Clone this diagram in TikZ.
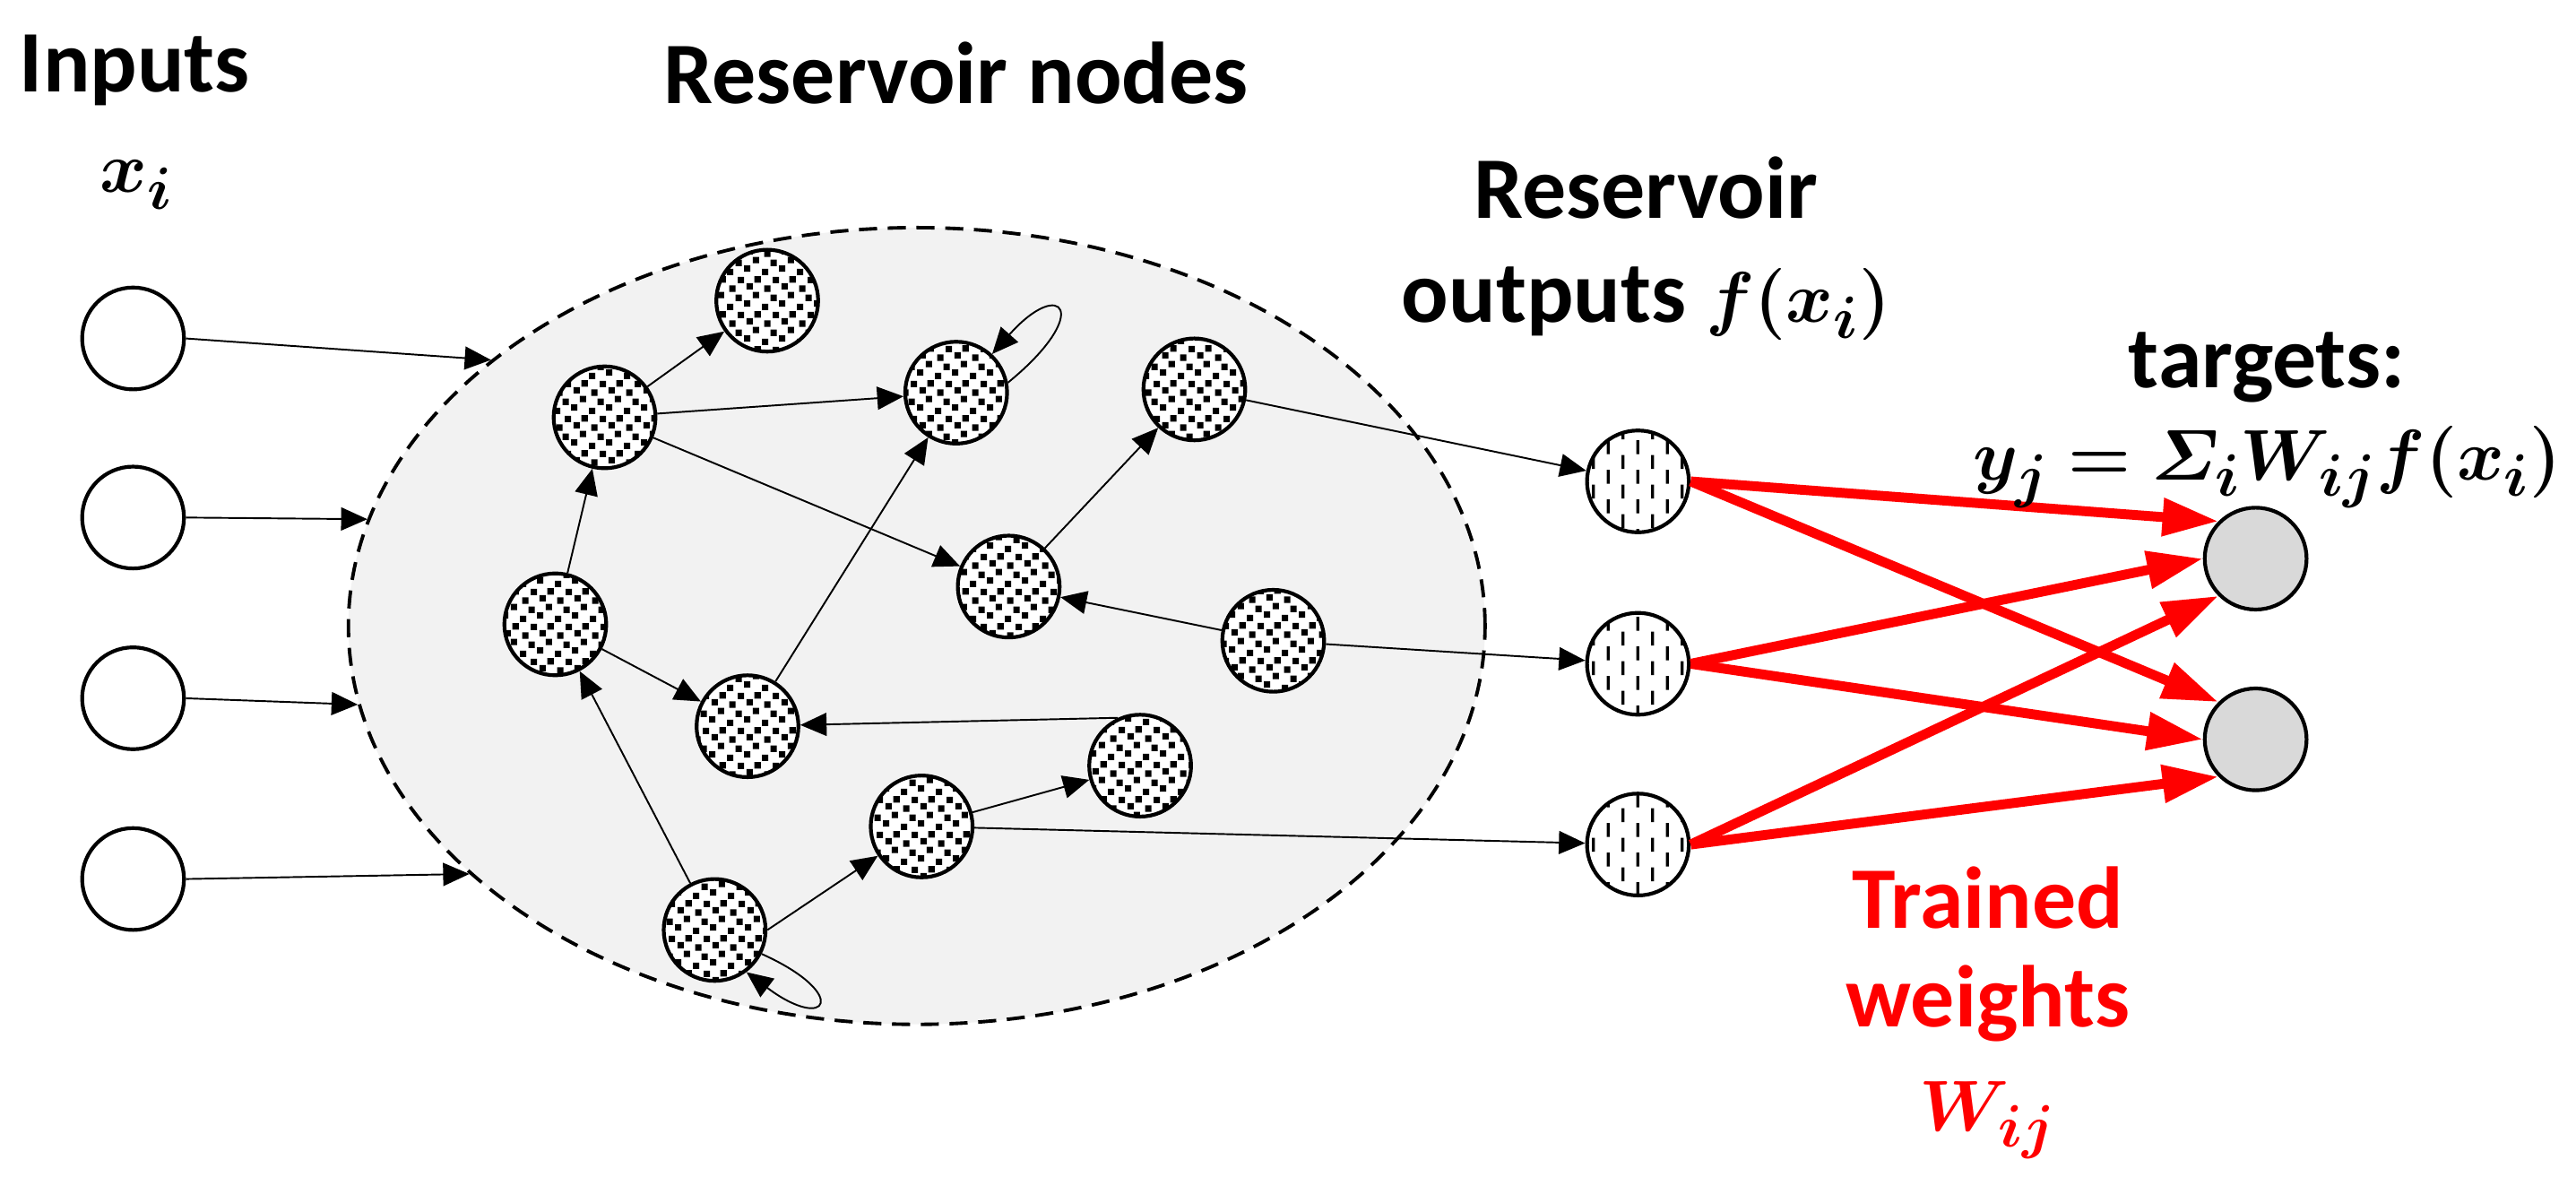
\documentclass[tikz,border=0pt]{standalone}
\usepackage{fontspec}
\setmainfont{Carlito}
\usepackage{amsmath}
\usepackage{bm}
\usetikzlibrary{arrows.meta,shapes.geometric,patterns}

\definecolor{resgray}{HTML}{F2F2F2}
\definecolor{tgtgray}{HTML}{D9D9D9}

% small black squares, scattered
\pgfdeclarepatternformonly{confetti}{\pgfqpoint{0pt}{0pt}}{\pgfqpoint{12pt}{12pt}}{\pgfqpoint{12pt}{12pt}}{
  \pgfpathrectangle{\pgfqpoint{0pt}{0pt}}{\pgfqpoint{2.2pt}{2.2pt}}
  \pgfpathrectangle{\pgfqpoint{6pt}{1.2pt}}{\pgfqpoint{2.2pt}{2.2pt}}
  \pgfpathrectangle{\pgfqpoint{3pt}{3.2pt}}{\pgfqpoint{2.2pt}{2.2pt}}
  \pgfpathrectangle{\pgfqpoint{9pt}{4.2pt}}{\pgfqpoint{2.2pt}{2.2pt}}
  \pgfpathrectangle{\pgfqpoint{0.8pt}{6.4pt}}{\pgfqpoint{2.2pt}{2.2pt}}
  \pgfpathrectangle{\pgfqpoint{6.8pt}{7.2pt}}{\pgfqpoint{2.2pt}{2.2pt}}
  \pgfpathrectangle{\pgfqpoint{3.8pt}{9.4pt}}{\pgfqpoint{2.2pt}{2.2pt}}
  \pgfpathrectangle{\pgfqpoint{9.6pt}{9.6pt}}{\pgfqpoint{2.2pt}{2.2pt}}
  \pgfusepath{fill}
}
% short vertical dashes, staggered
\pgfdeclarepatternformonly{vdashes}{\pgfqpoint{0pt}{0pt}}{\pgfqpoint{10.2pt}{10.2pt}}{\pgfqpoint{10.2pt}{10.2pt}}{
  \pgfpathrectangle{\pgfqpoint{1pt}{0.3pt}}{\pgfqpoint{1pt}{4.8pt}}
  \pgfpathrectangle{\pgfqpoint{6.1pt}{5.4pt}}{\pgfqpoint{1pt}{4.8pt}}
  \pgfusepath{fill}
}

% bold italic maths, a little larger than the text
\newcommand{\eqbold}[1]{{\fontsize{32.5}{37}\selectfont$\bm{#1}$}}

\tikzset{
  inp/.style={circle, draw, line width=1.3pt, minimum size=1.24cm, inner sep=0pt, fill=white},
  resnode/.style={inp, preaction={fill=white}, pattern=confetti},
  outnode/.style={inp, preaction={fill=white}, pattern=vdashes},
  target/.style={inp, fill=tgtgray},
  wire/.style={line width=0.6pt, -{Triangle[length=0.32cm,width=0.28cm]}},
  weight/.style={red, line width=3.4pt, -{Triangle[length=0.68cm,width=0.44cm]}},
  lbl/.style={font=\fontsize{30.4}{34}\selectfont\bfseries, inner sep=0pt, align=center},
}

\begin{document}
\begin{tikzpicture}[x=0.02cm, y=0.02cm]
  \useasboundingbox (0,0) rectangle (1568,716);

  % reservoir
  \node[ellipse, draw, line width=1.2pt, dash pattern=on 0.22cm off 0.13cm, fill=resgray,
        minimum width=13.84cm, minimum height=9.7cm, inner sep=0pt] (res) at (558,335) {};

  % inputs
  \node[inp] (in1) at (81,510) {};
  \node[inp] (in2) at (81,401) {};
  \node[inp] (in3) at (81,291) {};
  \node[inp] (in4) at (81,181) {};

  % reservoir nodes
  \node[resnode] (n1) at (467,533) {};
  \node[resnode] (n2) at (368,462) {};
  \node[resnode] (n3) at (582,477) {};
  \node[resnode] (n4) at (727,479) {};
  \node[resnode] (n5) at (338,336) {};
  \node[resnode] (n6) at (614,359) {};
  \node[resnode] (n7) at (775,326) {};
  \node[resnode] (n8) at (455,274) {};
  \node[resnode] (n9) at (694,250) {};
  \node[resnode] (n10) at (561,213) {};
  \node[resnode] (n11) at (435,150) {};

  % reservoir outputs and targets
  \node[outnode] (o1) at (997,423) {};
  \node[outnode] (o2) at (997,312) {};
  \node[outnode] (o3) at (997,202) {};
  \node[target] (t1) at (1373,376) {};
  \node[target] (t2) at (1373,266) {};

  % input weights
  \draw[wire] (in1.east) -- (res.148);
  \draw[wire] (in2.east) -- (res.169);
  \draw[wire] (in3.east) -- (res.188);
  \draw[wire] (in4.east) -- (res.209);

  % internal connections
  \draw[wire] (n2) -- (n1);
  \draw[wire] (n2) -- (n3);
  \draw[wire] (n2) -- (n6);
  \draw[wire] (n5) -- (n2);
  \draw[wire] (n5) -- (n8);
  \draw[wire] (n8) -- (n3);
  \draw[wire] (n6) -- (n4);
  \draw[wire] (n7) -- (n6);
  \draw[wire] (n9.115) -- (n8);
  \draw[wire] (n10) -- (n9);
  \draw[wire] (n11.east) -- (n10);
  \draw[wire] (n11) -- (n5);
  % self loops
  \draw[wire] (n3.11) .. controls (666,526) and (646,548) .. (n3.47);
  \draw[wire] (n11.-27) .. controls (518,111) and (504,87) .. (n11.-53);

  % read-out
  \draw[wire] (n4) -- (o1);
  \draw[wire] (n7) -- (o2);
  \draw[wire] (n10) -- (o3);
  \foreach \o/\a in {o1/135, o2/180, o3/225} {
    \draw[weight] (\o.east) -- (t1.\a);
    \draw[weight] (\o.east) -- (t2.\a);
  }

  % labels (base = last line)
  \node[lbl, anchor=base] (inputs) at (82,660) {Inputs};
  \node[lbl, anchor=base] (xi) at (83,599) {\eqbold{x_i}};
  \node[lbl, anchor=base] (resname) at (582,653) {Reservoir nodes};
  \node[lbl, anchor=base] (outname) at (1002,520) {Reservoir\\[2pt]outputs \eqbold{f(x_i)}};
  \node[lbl, anchor=base] (tgtname) at (1380,424) {targets:\\[-2pt]\eqbold{y_j = \varSigma_i W_{ij} f(x_i)}};
  \node[lbl, anchor=base, red] (wname) at (1210,28) {Trained\\weights\\[2pt]\eqbold{W_{ij}}};
\end{tikzpicture}
\end{document}
